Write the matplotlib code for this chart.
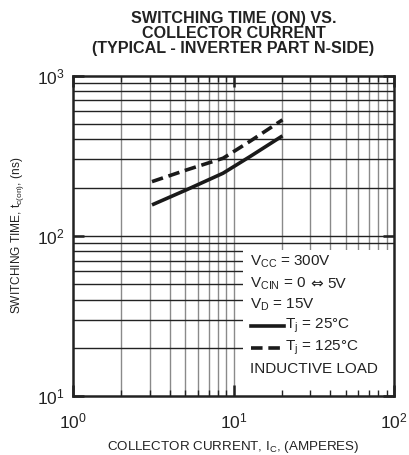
"""Switching time (on) vs collector current, typical inverter part N-side."""
import numpy as np
import matplotlib.pyplot as plt
from matplotlib.patches import Rectangle
from matplotlib.lines import Line2D

plt.rcParams['font.family'] = ['Liberation Sans', 'DejaVu Sans']
plt.rcParams['mathtext.fontset'] = 'custom'
plt.rcParams['mathtext.rm'] = 'Liberation Sans'
plt.rcParams['mathtext.it'] = 'Liberation Sans'

# curve values (collector current in A, time in ns)
ic_25 = [3.1, 5.1, 8.6, 12.7, 20.2]
ton_25 = [156, 194, 246, 313, 421]
ic_125 = [3.1, 5.1, 8.6, 12.7, 20.2]
ton_125 = [218, 258, 305, 390, 530]

legend_rows = [r'V$_{\rm CC}$ = 300V', r'V$_{\rm CIN}$ = 0', r'V$_{\rm D}$ = 15V',
               r'T$_{\rm j}$ = 25°C', r'T$_{\rm j}$ = 125°C', 'INDUCTIVE LOAD']

fig = plt.figure(figsize=(4.09, 4.55), dpi=100)
ax = fig.add_axes([0.179, 0.1297, 0.784, 0.704])
ax.set_xscale('log')
ax.set_yscale('log')
ax.set_xlim(1, 100)
ax.set_ylim(10, 1000)

# grid drawn by hand so the legend box can cover it but not the ticks
for dec in [1, 10]:
    for m in range(2, 10):
        ax.axvline(m * dec, color='#8a8a8a', lw=1.0, zorder=0.3)
ax.axvline(10, color='#8a8a8a', lw=1.0, zorder=0.3)
for dec in [10, 100]:
    for m in range(2, 10):
        ax.axhline(m * dec, color='#222222', lw=1.0, zorder=0.3)
ax.axhline(100, color='#222222', lw=1.0, zorder=0.3)

ax.add_patch(Rectangle((0.53, 0.0), 0.47, 0.455, transform=ax.transAxes,
                       facecolor='white', edgecolor='none', zorder=0.4))

ax.plot(ic_25, ton_25, color='#1a1a1a', lw=2.6, solid_capstyle='butt', zorder=3)
ax.plot(ic_125, ton_125, color='#1a1a1a', lw=2.6, dashes=(3.2, 1.6), zorder=3)

for s in ax.spines.values():
    s.set_linewidth(1.8)
    s.set_color('#222222')

ax.tick_params(which='both', direction='in', top=True, right=True, color='#222222')
ax.tick_params(which='major', length=8, width=1.8, labelsize=12.5, labelcolor='#222222')
ax.tick_params(axis='x', which='major', pad=11)
ax.tick_params(axis='y', which='major', pad=6)
ax.tick_params(which='minor', length=4, width=1.0)
ax.tick_params(axis='y', which='minor', length=0)
ax.set_xticks([1, 10, 100])
ax.set_xticklabels([r'$10^{0}$', r'$10^{1}$', r'$10^{2}$'])
ax.set_yticks([10, 100, 1000])
ax.set_yticklabels([r'$10^{1}$', r'$10^{2}$', r'$10^{3}$'])

ax.set_xlabel(r'COLLECTOR CURRENT, I$_{\rm C}$, (AMPERES)', fontsize=9.6, labelpad=6,
              color='#222222')
ax.set_ylabel(r'SWITCHING TIME, t$_{\rm c(on)}$, (ns)', fontsize=8.6, labelpad=8,
              color='#222222')
ax.set_title('SWITCHING TIME (ON) VS.\nCOLLECTOR CURRENT\n(TYPICAL - INVERTER PART N-SIDE)',
             fontsize=11.6, fontweight='bold', linespacing=1.0, pad=16.5, color='#222222')

# legend / condition block
x0 = 0.550
row_y = [0.4175, 0.349, 0.2845, 0.219, 0.149, 0.0835]
for i, (txt, yy) in enumerate(zip(legend_rows, row_y)):
    xx = x0
    if i in (3, 4):
        xx = x0 + 0.112
        ax.add_line(Line2D([x0 + 0.003, x0 + 0.108], [yy, yy], transform=ax.transAxes,
                           color='#1a1a1a', lw=2.6,
                           dashes=(3.2, 1.6) if i == 4 else (None, None), zorder=3))
    t = ax.text(xx, yy, txt, transform=ax.transAxes, fontsize=11, va='center', ha='left',
                color='#222222', zorder=3)
    if i == 1:
        # the double arrow comes from DejaVu Sans, the rest stays in Liberation Sans
        arrow = ax.annotate('⇔', xy=(1, 0.5), xycoords=t, xytext=(3, 0),
                            textcoords='offset points', fontsize=11, va='center',
                            ha='left', family='DejaVu Sans', color='#222222', zorder=3)
        ax.annotate('5V', xy=(1, 0.5), xycoords=arrow, xytext=(3, 0),
                    textcoords='offset points', fontsize=11, va='center', ha='left',
                    color='#222222', zorder=3)

fig.savefig('out.png', dpi=100)
